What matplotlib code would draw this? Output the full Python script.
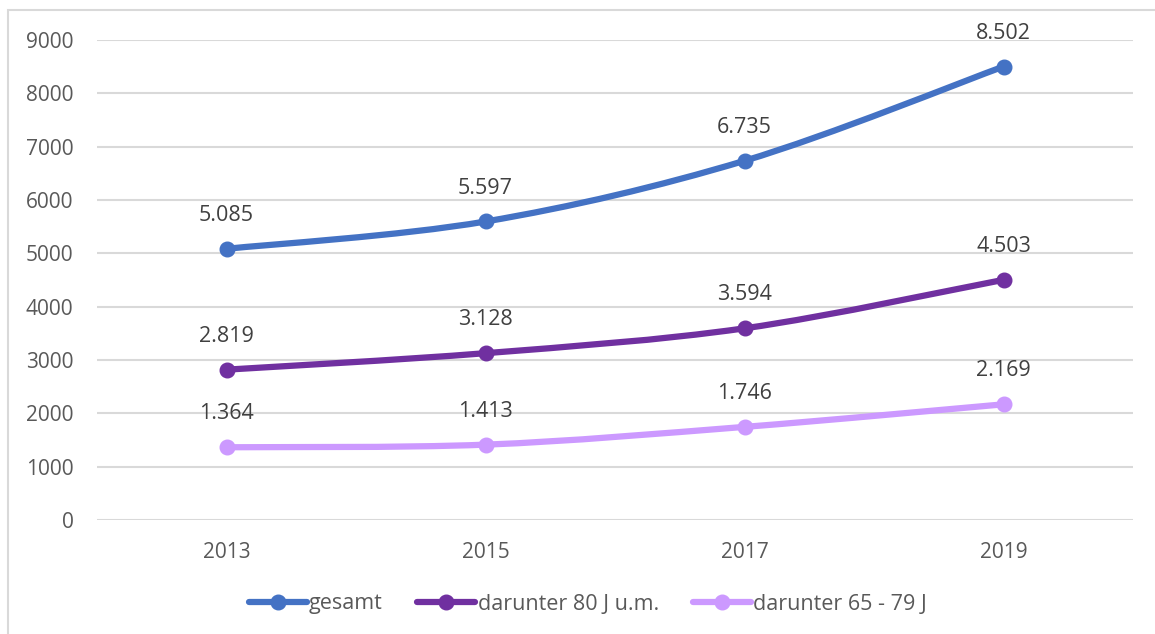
import numpy as np
import matplotlib.pyplot as plt
from matplotlib.path import Path
from matplotlib.patches import PathPatch, Rectangle
from matplotlib.lines import Line2D

years = ['2013', '2015', '2017', '2019']
gesamt = [5085, 5597, 6735, 8502]
ab_80 = [2819, 3128, 3594, 4503]
j65_79 = [1364, 1413, 1746, 2169]

series_names = ['gesamt', 'darunter 80 J u.m.', 'darunter 65 - 79 J']
series_colors = ['#4472C4', '#7030A0', '#CC99FF']

plt.rcParams['font.family'] = ['Open Sans', 'DejaVu Sans']

W, H = 1155, 634
fig = plt.figure(figsize=(W / 100, H / 100), dpi=100)
ax = fig.add_axes([97 / W, (H - 520) / H, (1133 - 97) / W, 480 / H])

# light frame around the whole chart area
fig.patches.append(Rectangle((8 / W, -0.05), 1.2, (H - 10) / H + 0.05,
                             transform=fig.transFigure, fill=False,
                             edgecolor='#D9D9D9', linewidth=1.5))


def smooth_path(x, y):
    # cubic bezier through the points, like a smoothed office line
    pts = np.column_stack([x, y]).astype(float)
    verts = [pts[0]]
    codes = [Path.MOVETO]
    n = len(pts)
    for i in range(n - 1):
        p0 = pts[i - 1] if i > 0 else pts[i]
        p1 = pts[i]
        p2 = pts[i + 1]
        p3 = pts[i + 2] if i + 2 < n else pts[i + 1]
        c1 = p1 + (p2 - p0) / 6.0
        c2 = p2 - (p3 - p1) / 6.0
        verts += [c1, c2, p2]
        codes += [Path.CURVE4] * 3
    return Path(verts, codes)


x = np.arange(len(years))
handles = []
for vals, name, col in zip([gesamt, ab_80, j65_79], series_names, series_colors):
    ax.add_patch(PathPatch(smooth_path(x, vals), facecolor='none', edgecolor=col,
                           linewidth=4.5, capstyle='round', zorder=3))
    ax.plot(x, vals, linestyle='none', marker='o', markersize=10.5,
            color=col, zorder=4)
    for xi, v in zip(x, vals):
        lbl = f'{v:,}'.replace(',', '.')
        ax.annotate(lbl, (xi, v), xytext=(0, 24), textcoords='offset points',
                    ha='center', va='center', fontsize=15.5, color='#404040')
    handles.append(Line2D([], [], color=col, linewidth=4.5, marker='o',
                          markersize=10.5, solid_capstyle='round'))

ax.set_xlim(-0.5, 3.5)
ax.set_ylim(0, 9000)
ax.set_yticks(range(0, 9001, 1000))
ax.set_xticks(x)
ax.set_xticklabels(years)
ax.grid(axis='y', color='#D9D9D9', linewidth=1.5)
ax.set_axisbelow(True)
for s in ax.spines.values():
    s.set_visible(False)
ax.tick_params(length=0, labelsize=15, colors='#595959')
ax.tick_params(axis='y', pad=17)
ax.tick_params(axis='x', pad=16)

fig.legend(handles, series_names, loc='center', bbox_to_anchor=(588 / W, (H - 604) / H),
           ncol=3, frameon=False, fontsize=15.5, labelcolor='#595959',
           handlelength=2.7, handletextpad=0.1, columnspacing=1.6)

fig.savefig('out.png', dpi=100)
